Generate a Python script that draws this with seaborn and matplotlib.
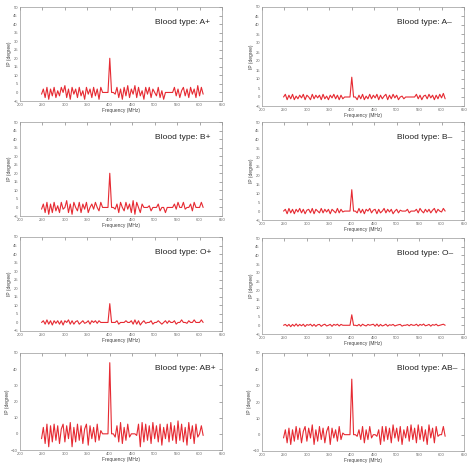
import numpy as np
import pandas as pd
import seaborn as sns
import matplotlib.pyplot as plt

# frequency grid (MHz), 248..608 in 4 MHz steps, peak sample at 400
freq = list(range(248, 612, 4))

a_pos = [-1, 2, -3, 3, -4, 2, -2, 3, -3, 1,
         -2, 3, 0, 4, -3, 2, -4, 3, -1, 2,
         -3, 3, -2, 1, -4, 3, -1, 2, -3, 3,
         -2, 2, -4, 3, 0, 0, 0, 0,
         20,
         0, 0, -1, 3, -3, 2, -4, 3, -2, 4, -3,
         2, -1, 4, -3, 3, -2, 1, -4, 3, -1,
         3, -3, 2, 0, -2, 3, -3, 1,
         -4, 0, 0, 0, 0, 0,
         3, -2, 2, -3, 1, 3, -2, 2, -3, 3, -1, 2, -3, 4, -2, 3, -1]

a_neg = [0, 1.5, -1.5, 1, -1, 1.5, -1.5, 0.5, -1, 1,
         -0.5, 1.5, -1.5, 1, 0, -1.5, 1.5, -1, 1, -0.5,
         1, -1.5, 1.5, -1, 0.5, -1.5, 1, -0.5, 1.5, -1,
         1, -1.5, 1, -1, 0, 0, 0, 0,
         11,
         0, 0, -1.5, 1, -1, 1.5, -1.5, 0.5, -1, 1.5, -1,
         1, -0.5, 1.5, -1.5, 1, -1, 0.5, 1.5, -1.5, 1,
         -1, 1.5, -0.5, 1, -1.5, 0, 0.5, -1,
         0, 0, 0, 0, 0, 0,
         1.5, -1, 1, -1.5, 0.5, 1, -1, 1.5, -0.5, 1, -1.5, 1, -1, 1.5, -0.5, 2, -1]

b_pos = [-1, 2, -3, 3, -4, 2, -3, 3, -2, 1,
         -3, 3, -1, 0, 4, -3, 2, -4, 3, 0,
         -2, 3, -3, 2, -1, 3, -3, 0, 2, -1,
         3, 0, -2, 3, 0, 0, 0, 0,
         20,
         0, 0, -1, 2, -3, 3, 0, -2, 3, -1, 2,
         -3, 4, -4, 3, 0, -3, 2, 0, 0, 0,
         1, -2, 0, 0, 0, 2, -2, 0,
         0, -3, 0, 0, 0, 0,
         2, -1, 3, 0, 0, 3, -1, 0, 0, 2, -2, 3, 0, 0, 0, 3, 0]

b_neg = [0, 1, -1.5, 1.5, -1, 1, -1.5, 1, -0.5, 1.5,
         -1, 1, -1.5, 0.5, 1, -1, 1.5, -1.5, 1, 0,
         -1, 1.5, -1, 1, -0.5, 1, -1.5, 1, 0, -1,
         1.5, -1, 1, -0.5, 0, 0, 0, 0,
         12,
         0, 0, -1, 1.5, -1, 1, -1.5, 1, 0, 1.5, -1,
         0.5, 1, -1.5, 1, -1, 0, 1.5, -1, 1, -0.5,
         1, -1.5, 0, 1, -1, 0.5, 0, 0,
         0, 1, -1, 0, 0, 0,
         1, -1, 1.5, 0, -1, 1, -0.5, 1, -1, 0.5, 1.5, -1, 1, 0, -0.5, 1.5, 0]

o_pos = [0, 1, -1, 1.5, -1, 1, -1.5, 1, -0.5, 1,
         -1, 1, -1.5, 1, 0, 1.5, -1, 1, -1, 0.5,
         1, -1, 0, 1, -0.5, 0, 1, -1, 1, 0,
         1, -0.5, 1, 0, 0, 0, 0, 0,
         11,
         0, 0, 0, 1, -1, 0, 0, 0, 1, 0, 0,
         1, -1, 1.5, -1, 1, -1.5, 0, 1, -0.5, 0,
         0, 1, -1, 0, 0, 1, 0, -1,
         0, 1, -0.5, 1, 0, 0,
         1, -1, 0, 0, 1.5, 0, 0, -0.5, 1, 0, 0, 1.5, 0, 0, 0, 1.5, 0]

o_neg = [0, 0.5, -0.5, 0.5, -0.8, 0.5, -0.5, 0.8, -0.5, 0.5,
         -0.3, 0.6, -0.7, 0.4, 0, 0.6, -0.5, 0.5, -0.6, 0.3,
         0.5, -0.6, 0.2, 0.6, -0.4, 0, 0.5, -0.6, 0.5, 0,
         0.6, -0.4, 0.5, 0, 0, 0, 0, 0,
         6,
         0, 0, -0.3, 0.5, -0.5, 0.6, 0, -0.4, 0.5, 0, 0.3,
         0.6, -0.5, 0.7, -0.6, 0.5, -0.4, 0, 0.6, -0.5, 0.3,
         0, 0.5, -0.4, 0, 0.3, 0.5, -0.5, 0,
         0, 0.4, -0.3, 0.5, 0, 0,
         0.6, -0.4, 0.5, 0, 0.7, -0.3, 0, 0.5, -0.5, 0.4, 0, 0.6, -0.3, 0, 0.3, 0.6, 0]

ab_pos = [-3, 4, -6, 6, -8, 5, -5, 6, -4, 5,
          -6, 3, 6, -5, 5, -3, 7, -8, 4, -5,
          6, -4, 5, -6, 3, 6, -7, 5, -3, 4,
          -5, 6, -4, 2, 0, 0, 0, 0,
          44,
          0, 0, -2, 5, -5, 7, -6, 4, -4, 6, -2,
          0, 0, 0, -1, 6, -8, 7, -5, 6, -4,
          5, -6, 7, -3, 5, -5, 6, -7,
          4, -3, 6, -5, 7, -4,
          5, -6, 8, -4, 6, -5, 4, -7, 7, -3, 5, -6, 6, -2, 0, 5, -1]

ab_neg = [-2, 3, -5, 4, -6, 3, -4, 5, -3, 4,
          -5, 2, 5, -4, 4, -2, 6, -6, 3, -4,
          5, -3, 4, -5, 2, 5, -6, 4, -2, 3,
          -4, 5, -3, 1, 0, 0, 0, 0,
          34,
          0, 0, -1, 3, -3, 5, -5, 3, -3, 5, -2,
          0, 0, -1, 3, -6, 5, -4, 5, -3, 4,
          -5, 6, -2, 4, -4, 5, -6, 3,
          -2, 5, -4, 6, -3, 4,
          -5, 6, -3, 5, -4, 3, -6, 6, -2, 4, -5, 5, -1, 0, 0, 5, -1]

labels = ["A+", "A\u2013", "B+", "B\u2013", "O+", "O\u2013", "AB+", "AB\u2013"]
series = [a_pos, a_neg, b_pos, b_neg, o_pos, o_neg, ab_pos, ab_neg]

sns.set_style("white")
plt.rcParams["font.family"] = ["Liberation Sans", "DejaVu Sans"]

W, H = 468, 463
fig = plt.figure(figsize=(W / 100, H / 100), dpi=100)

# panel boxes in pixels: (left, top, right, bottom)
left_tops = [7, 122, 237, 353]
left_bots = [101, 216, 331, 450]
right_tops = [7, 122, 238, 353]
right_bots = [106, 220, 334, 451]

for k, (lab, vals) in enumerate(zip(labels, series)):
    row, col = k // 2, k % 2
    if col == 0:
        x0, x1, t, b = 20, 222, left_tops[row], left_bots[row]
    else:
        x0, x1, t, b = 262, 464, right_tops[row], right_bots[row]
    ax = fig.add_axes([x0 / W, 1 - b / H, (x1 - x0) / W, (b - t) / H])
    df = pd.DataFrame({"f": freq, "v": vals})
    sns.lineplot(data=df, x="f", y="v", ax=ax, color="#e62a32", linewidth=0.8)
    ax.set_xlim(200, 650)
    ax.set_xticks(range(200, 651, 50))
    if row == 3:
        ax.set_ylim(-10, 50)
        ax.set_yticks(range(-10, 51, 10))
    else:
        ax.set_ylim(-5, 50)
        ax.set_yticks(range(-5, 51, 5))
    ax.set_xlabel("Frequency (MHz)", fontsize=3.5, labelpad=0.5, color="#444444")
    ax.set_ylabel("IP (degree)", fontsize=3.5, labelpad=1, color="#444444")
    ax.tick_params(direction="in", length=2, width=0.4, labelsize=3,
                   colors="#666666", pad=1.5, top=True, right=True)
    for s in ax.spines.values():
        s.set_color("#999999")
        s.set_linewidth(0.5)
    ax.text(0.67, 0.84, "Blood type: " + lab, transform=ax.transAxes,
            fontsize=6, color="#222222", va="center", ha="left")

fig.savefig("out.png", dpi=100)
